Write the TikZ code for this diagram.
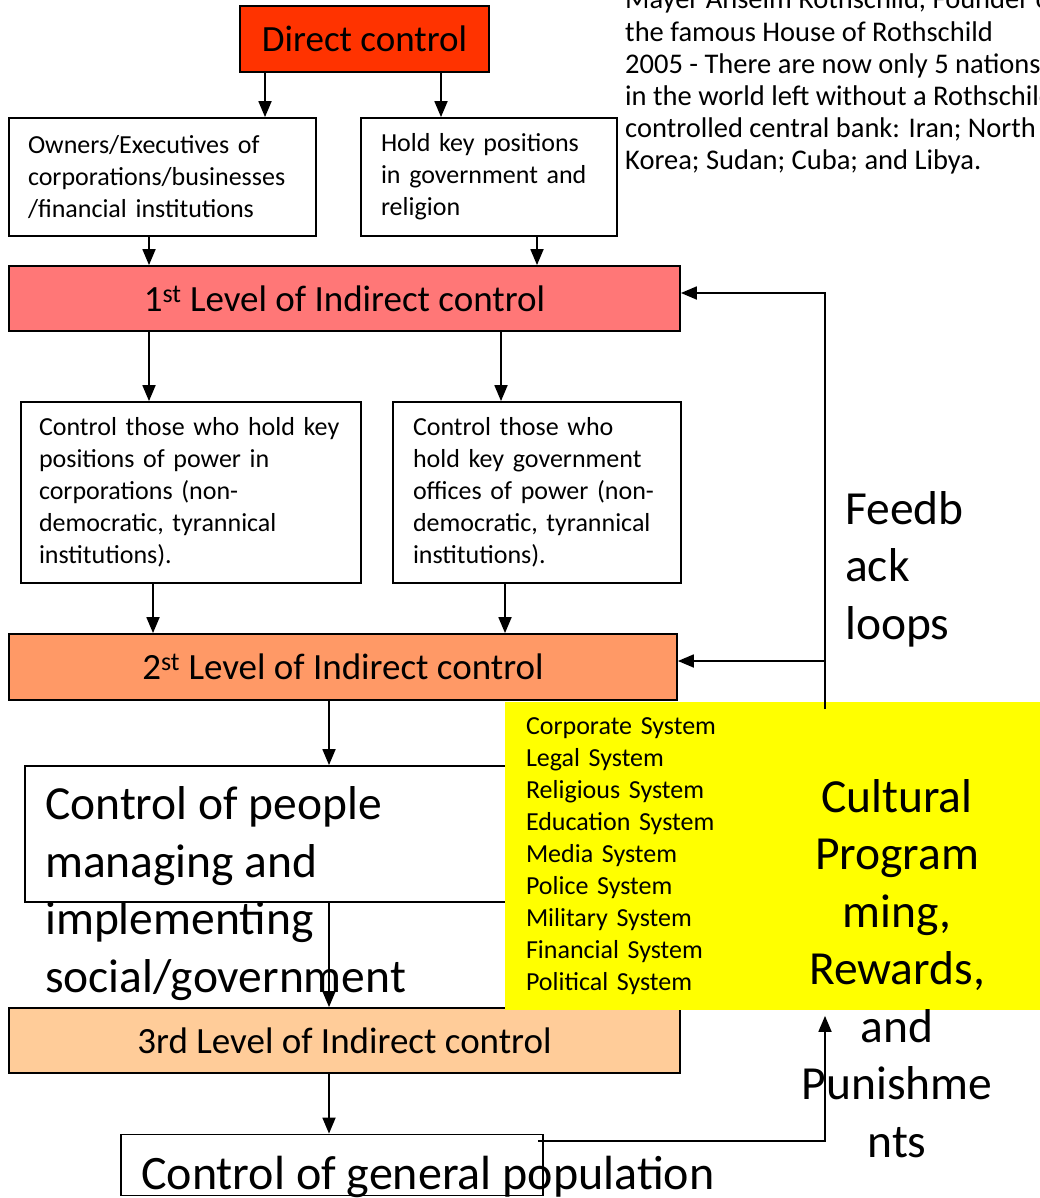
\documentclass[tikz,border=0pt]{standalone}
\usepackage{fontspec}
\setmainfont{Carlito}
\usetikzlibrary{arrows.meta}

\definecolor{directred}{HTML}{FF3300}
\definecolor{levelone}{HTML}{FF7777}
\definecolor{leveltwo}{HTML}{FF9966}
\definecolor{levelthree}{HTML}{FFCC99}
\definecolor{culture}{HTML}{FFFF00}

\begin{document}
\begin{tikzpicture}[
    x=1pt, y=-1pt,
    box/.style={draw=black, line width=1.8pt, fill=white, inner sep=0pt},
    small/.style={font=\fontsize{26}{32}\selectfont},
    level/.style={box, font=\fontsize{37}{44}\selectfont, minimum width=671pt, minimum height=65pt},
    big/.style={font=\fontsize{47.5}{57.5}\selectfont, inner sep=0pt},
    arr/.style={line width=1.8pt, -{Triangle[length=16pt, width=13pt]}}
]
    % LAYOUT:
    % one unit is one pixel of the slide, y runs down the page
    % text that runs out of the slide is cut at its edge
    % a text of several lines sits on the baseline of its last line
    \useasboundingbox (0,0) rectangle (1040,1198);
    \clip (0,0) rectangle (1040,1198);

    % columns of the vertical arrows
    \coordinate (a1) at (265,0);
    \coordinate (a2) at (441,0);
    \coordinate (b1) at (149,0);
    \coordinate (b2) at (537,0);
    \coordinate (c1) at (149,0);
    \coordinate (c2) at (501,0);
    \coordinate (d1) at (153,0);
    \coordinate (d2) at (505,0);
    \coordinate (stem) at (329,0);
    \coordinate (fb) at (825,0);

    % top: direct control
    \node[box, fill=directred, font=\fontsize{37}{44}\selectfont,
          minimum width=249pt, minimum height=66pt] (direct) at (364.5,39) {Direct control};
    \node[font=\fontsize{28.5}{32.2}\selectfont, anchor=base west, align=left, inner sep=0pt]
        (note) at (625,170) {%
        Mayer Anselm Rothschild, Founder of\\
        the famous House of Rothschild\\
        2005 - There are now only 5 nations\\
        in the world left without a Rothschild\\
        controlled central bank: Iran; North\\
        Korea; Sudan; Cuba; and Libya.};

    \node[box, small, minimum width=307pt, minimum height=118pt, text width=269pt, align=left]
        (owners) at (162.5,177) {Owners/Executives of\\corporations/businesses\\/financial institutions};
    \node[box, small, minimum width=256pt, minimum height=118pt, text width=216pt, align=left]
        (hold) at (489,177) {Hold key positions\\in government and\\religion};
    \draw[arr] (direct.south -| a1) -- (owners.north -| a1);
    \draw[arr] (direct.south -| a2) -- (hold.north -| a2);

    % 1st level
    \node[level, fill=levelone] (lvl1) at (344.5,298.5) {1\textsuperscript{st} Level of Indirect control};
    \draw[arr] (owners.south -| b1) -- (lvl1.north -| b1);
    \draw[arr] (hold.south -| b2) -- (lvl1.north -| b2);

    \node[box, small, minimum width=340pt, minimum height=181pt, text width=304pt, align=left]
        (ctrlcorp) at (191,492.5) {Control those who hold key\\positions of power in\\corporations (non-\\democratic, tyrannical\\institutions).};
    \node[box, small, minimum width=288pt, minimum height=181pt, text width=248pt, align=left]
        (ctrlgov) at (537,492.5) {Control those who\\hold key government\\offices of power (non-\\democratic, tyrannical\\institutions).};
    \draw[arr] (lvl1.south -| c1) -- (ctrlcorp.north -| c1);
    \draw[arr] (lvl1.south -| c2) -- (ctrlgov.north -| c2);

    % 2nd level
    \node[level, fill=leveltwo, minimum width=668pt, minimum height=66pt] (lvl2) at (343,667)
        {2\textsuperscript{st} Level of Indirect control};
    \draw[arr] (ctrlcorp.south -| d1) -- (lvl2.north -| d1);
    \draw[arr] (ctrlgov.south -| d2) -- (lvl2.north -| d2);

    % people managing the systems, the text runs out of its box
    \node[box, minimum width=505pt, minimum height=136pt] (people) at (277.5,834) {};
    \node[big, anchor=base west, align=left] (peopletext) at (45,992)
        {Control of people\\managing and\\implementing\\social/government};
    \draw[arr] (lvl2.south -| stem) -- (people.north -| stem);

    % 3rd level
    \node[level, fill=levelthree] (lvl3) at (344.5,1040.5) {3rd Level of Indirect control};
    \draw[arr] (people.south -| stem) -- (lvl3.north -| stem);

    % cultural programming
    \node[box, draw=none, fill=culture, small, minimum width=540pt, minimum height=308pt,
          text width=498pt, align=left] (systems) at (775,856)
        {Corporate System\\Legal System\\Religious System\\Education System\\Media System\\Police System\\Military System\\Financial System\\Political System};
    \node[big, anchor=base, align=center] (cultural) at (897,1157)
        {Cultural\\Program\\ming,\\Rewards,\\and\\Punishme\\nts};

    % feedback loops
    \node[big, anchor=base west, align=left] (feedback) at (845,639) {Feedb\\ack\\loops};
    \draw[arr] ([yshift=-8pt]systems.north -| fb) |- ([yshift=5.5pt]lvl1.east);
    \draw[arr] ([yshift=6pt]lvl2.east -| fb) -- ([yshift=6pt]lvl2.east);

    % general population
    \node[box, minimum width=422pt, minimum height=61pt] (genpop) at (332,1165) {};
    \node[big, font=\fontsize{48}{57.5}\selectfont, anchor=base west] (genpoptext) at (141,1189)
        {Control of general population};
    \draw[arr] (lvl3.south -| stem) -- (genpop.north -| stem);
    \draw[arr, shorten >=5pt] ([xshift=-6pt, yshift=-7pt]genpop.north east) -| (systems.south -| fb);
\end{tikzpicture}
\end{document}
